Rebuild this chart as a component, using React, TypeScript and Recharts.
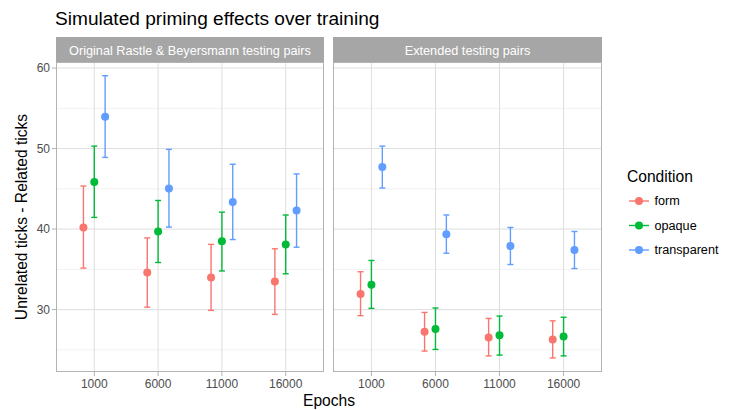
import React from 'react';
import { ScatterChart, Scatter, XAxis, YAxis, CartesianGrid, ErrorBar } from 'recharts';

const epochs = ['1000', '6000', '11000', '16000'];
const conditions = ['form', 'opaque', 'transparent'];
const conditionColors = ['#F8766D', '#00BA38', '#619CFF'];
const panelTitles = ['Original Rastle & Beyersmann testing pairs', 'Extended testing pairs'];
const yMajorTicks = [30, 40, 50, 60];
const yMinorTicks = [25, 35, 45, 55];

// Original testing pairs
const origFormMean = [40.2, 34.6, 34.0, 33.5];
const origFormLo = [35.15, 30.3, 29.9, 29.4];
const origFormHi = [45.35, 38.9, 38.1, 37.55];
const origOpaqueMean = [45.85, 39.7, 38.5, 38.1];
const origOpaqueLo = [41.45, 35.85, 34.8, 34.45];
const origOpaqueHi = [50.3, 43.55, 42.1, 41.75];
const origTranspMean = [53.95, 45.05, 43.35, 42.3];
const origTranspLo = [48.9, 40.25, 38.7, 37.75];
const origTranspHi = [59.05, 49.9, 48.05, 46.85];

// Extended testing pairs
const extFormMean = [31.95, 27.25, 26.55, 26.3];
const extFormLo = [29.25, 24.85, 24.25, 24.0];
const extFormHi = [34.7, 29.65, 28.9, 28.6];
const extOpaqueMean = [33.1, 27.6, 26.8, 26.65];
const extOpaqueLo = [30.15, 25.05, 24.35, 24.25];
const extOpaqueHi = [36.1, 30.2, 29.2, 29.05];
const extTranspMean = [47.7, 39.35, 37.9, 37.4];
const extTranspLo = [45.1, 37.0, 35.6, 35.1];
const extTranspHi = [50.3, 41.75, 40.2, 39.7];

const dodge = [-0.17, 0, 0.17];
const Y_DOMAIN = [22.25, 60.75];
const X_DOMAIN = [0.4, 4.6];

function buildRows(mean: number[], lo: number[], hi: number[], ci: number) {
  return epochs.map((e, i) => ({
    x: i + 1 + dodge[ci],
    y: mean[i],
    err: [mean[i] - lo[i], hi[i] - mean[i]],
  }));
}

const origSeries = [
  buildRows(origFormMean, origFormLo, origFormHi, 0),
  buildRows(origOpaqueMean, origOpaqueLo, origOpaqueHi, 1),
  buildRows(origTranspMean, origTranspLo, origTranspHi, 2),
];
const extSeries = [
  buildRows(extFormMean, extFormLo, extFormHi, 0),
  buildRows(extOpaqueMean, extOpaqueLo, extOpaqueHi, 1),
  buildRows(extTranspMean, extTranspLo, extTranspHi, 2),
];

const FONT = '"Liberation Sans", Arial, Helvetica, sans-serif';
const PANEL_TOP = 62;
const PANEL_BOTTOM = 372;
const LEFT_X0 = 56;
const LEFT_X1 = 324;
const RIGHT_X0 = 333;
const RIGHT_X1 = 602;

function Panel({ series, showY, chartWidth, ml, mr }: any) {
  return (
    <ScatterChart
      width={chartWidth}
      height={410}
      margin={{ top: PANEL_TOP, right: mr, bottom: 0, left: ml }}
      style={{ fontFamily: FONT }}
    >
      <CartesianGrid stroke="#EBEBEB" strokeWidth={0.7} horizontalValues={yMinorTicks} vertical={false} />
      <CartesianGrid stroke="#DEDEDE" strokeWidth={1} horizontalValues={yMajorTicks} verticalValues={[1, 2, 3, 4]} />
      <XAxis
        type="number"
        dataKey="x"
        domain={X_DOMAIN}
        ticks={[1, 2, 3, 4]}
        interval={0}
        allowDataOverflow
        tickFormatter={(v: number) => epochs[Math.round(v) - 1]}
        height={410 - PANEL_BOTTOM}
        tickSize={4}
        tickMargin={3}
        axisLine={false}
        tickLine={{ stroke: '#B3B3B3' }}
        tick={{ fill: '#4D4D4D', fontSize: 12 }}
      />
      <YAxis
        type="number"
        dataKey="y"
        domain={Y_DOMAIN}
        ticks={yMajorTicks}
        interval={0}
        allowDataOverflow
        hide={!showY}
        width={showY ? LEFT_X0 : 0}
        tickSize={4}
        tickMargin={2}
        axisLine={false}
        tickLine={{ stroke: '#B3B3B3' }}
        tick={{ fill: '#4D4D4D', fontSize: 12 }}
      />
      {series.map((rows: any[], ci: number) => (
        <Scatter
          key={conditions[ci]}
          name={conditions[ci]}
          data={rows}
          fill={conditionColors[ci]}
          isAnimationActive={false}
          shape={(p: any) => <circle cx={p.cx} cy={p.cy} r={4} fill={conditionColors[ci]} />}
        >
          <ErrorBar dataKey="err" direction="y" width={3} stroke={conditionColors[ci]} strokeWidth={1.4} isAnimationActive={false} />
        </Scatter>
      ))}
    </ScatterChart>
  );
}

export default function App() {
  const legendY0 = 201;
  const legendStep = 24.5;
  return (
    <div style={{ position: 'fixed', left: 0, top: 0, width: 734, height: 410, background: '#fff', fontFamily: FONT }}>
      <div style={{ position: 'absolute', left: 0, top: 0 }}>
        <Panel series={origSeries} showY chartWidth={330} ml={0} mr={330 - LEFT_X1} />
      </div>
      <div style={{ position: 'absolute', left: 320, top: 0 }}>
        <Panel series={extSeries} showY={false} chartWidth={290} ml={RIGHT_X0 - 320} mr={320 + 290 - RIGHT_X1} />
      </div>
      <svg width={734} height={410} style={{ position: 'absolute', left: 0, top: 0, pointerEvents: 'none', fontFamily: FONT }}>
        <text x={55} y={25} fontSize={19.1} fill="#000">Simulated priming effects over training</text>
        {[[LEFT_X0, LEFT_X1], [RIGHT_X0, RIGHT_X1]].map(([a, b], i) => (
          <g key={i}>
            <rect x={a} y={37} width={b - a} height={PANEL_TOP - 37} fill="#A6A6A6" />
            <text x={(a + b) / 2} y={54.5} fontSize={12.7} fill="#fff" textAnchor="middle">{panelTitles[i]}</text>
            <rect x={a + 0.5} y={PANEL_TOP + 0.5} width={b - a - 1} height={PANEL_BOTTOM - PANEL_TOP - 1} fill="none" stroke="#B3B3B3" strokeWidth={1} />
          </g>
        ))}
        <text x={(LEFT_X0 + RIGHT_X1) / 2} y={406} fontSize={15.6} textAnchor="middle" fill="#000">Epochs</text>
        <text x={26.5} y={(PANEL_TOP + PANEL_BOTTOM) / 2} fontSize={15.6} textAnchor="middle" fill="#000" transform={`rotate(-90 26.5 ${(PANEL_TOP + PANEL_BOTTOM) / 2})`}>Unrelated ticks - Related ticks</text>
        <text x={627} y={182} fontSize={15.6} fill="#000">Condition</text>
        {conditions.map((c, i) => (
          <g key={c}>
            <line x1={629} x2={649} y1={legendY0 + i * legendStep} y2={legendY0 + i * legendStep} stroke={conditionColors[i]} strokeWidth={1.4} />
            <circle cx={639} cy={legendY0 + i * legendStep} r={4} fill={conditionColors[i]} />
            <text x={654.5} y={legendY0 + i * legendStep + 4.4} fontSize={12.65} fill="#000">{c}</text>
          </g>
        ))}
      </svg>
    </div>
  );
}
